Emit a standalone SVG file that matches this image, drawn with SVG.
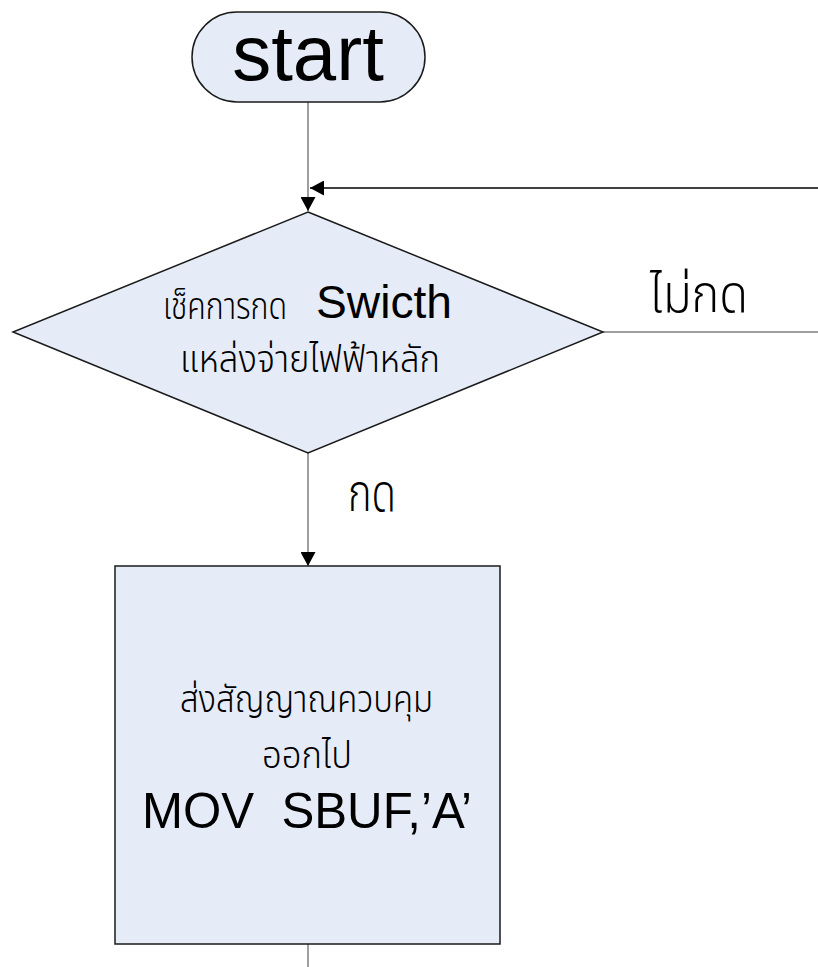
<svg xmlns="http://www.w3.org/2000/svg" width="818" height="967" viewBox="0 0 818 967">
  <style>
    .shape { fill: #e6ecf7; stroke: #1a1a1a; stroke-width: 1.5; }
    .wire { fill: none; stroke: #7f7f7f; stroke-width: 1.5; }
    .wire-dark { fill: none; stroke: #000; stroke-width: 1.5; }
    .lat { font-family: "Liberation Sans", Arial, sans-serif; fill: #000; }
    .th { font-family: "Noto Sans Thai", "Noto Sans", "DejaVu Sans", sans-serif; fill: #000; font-weight: 300; }
  </style>
  <defs>
    <marker id="arrow" markerWidth="15" markerHeight="15" refX="14" refY="7.5" orient="auto" markerUnits="userSpaceOnUse">
      <path d="M0,0 L14,7.5 L0,15 Z" fill="#000"/>
    </marker>
  </defs>

  <g id="connectors">
    <line class="wire" x1="308" y1="102" x2="308" y2="211" marker-end="url(#arrow)"/>
    <line class="wire-dark" x1="818" y1="188" x2="310" y2="188" marker-end="url(#arrow)"/>
    <line class="wire" x1="603" y1="332" x2="818" y2="332"/>
    <line class="wire" x1="308" y1="453" x2="308" y2="566" marker-end="url(#arrow)"/>
    <line class="wire" x1="308" y1="944" x2="308" y2="967"/>
    <text class="th" x="650" y="312" font-size="52" textLength="98" lengthAdjust="spacingAndGlyphs">ไม่กด</text>
    <text class="th" x="348" y="511" font-size="52" textLength="48" lengthAdjust="spacingAndGlyphs">กด</text>
  </g>

  <g id="start">
    <rect class="shape" x="192" y="12" width="233" height="90" rx="45" ry="45"/>
    <text class="lat" x="308" y="80" font-size="78" text-anchor="middle">start</text>
  </g>

  <g id="check-switch">
    <polygon class="shape" points="308,212 603,332 308,453 13,332"/>
    <text class="th" x="163" y="319" font-size="37" textLength="124" lengthAdjust="spacingAndGlyphs">เช็คการกด</text>
    <text class="lat" x="316" y="318" font-size="47" textLength="136" lengthAdjust="spacingAndGlyphs">Swicth</text>
    <text class="th" x="180" y="372" font-size="37" textLength="260" lengthAdjust="spacingAndGlyphs">แหล่งจ่ายไฟฟ้าหลัก</text>
  </g>

  <g id="send-signal">
    <rect class="shape" x="115" y="566" width="385" height="378"/>
    <text class="th" x="180" y="712" font-size="38" textLength="253" lengthAdjust="spacingAndGlyphs">ส่งสัญญาณควบคุม</text>
    <text class="th" x="262" y="768" font-size="38" textLength="90" lengthAdjust="spacingAndGlyphs">ออกไป</text>
    <text class="lat" x="142" y="828" font-size="50" textLength="330" lengthAdjust="spacingAndGlyphs" xml:space="preserve">MOV  SBUF,’A’</text>
  </g>
</svg>
